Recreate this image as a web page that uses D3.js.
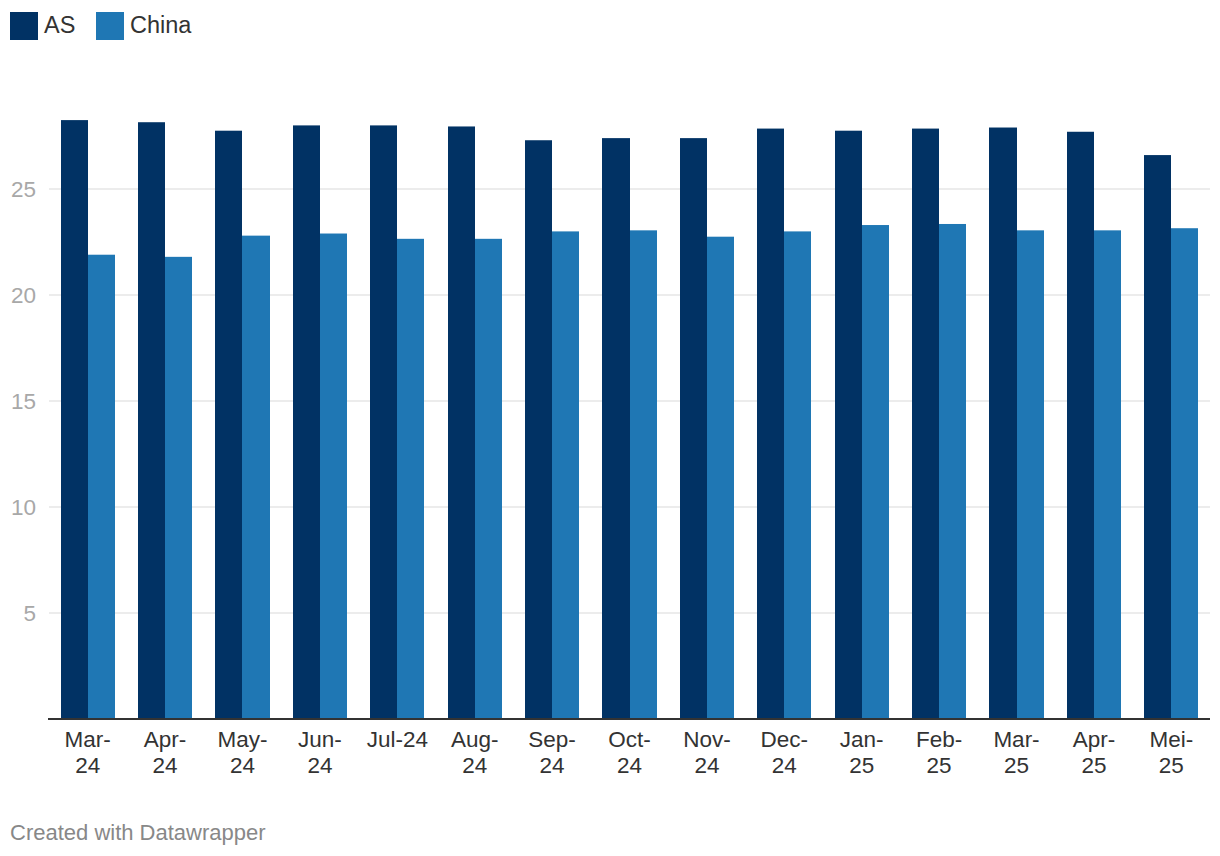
<!DOCTYPE html>
<html>
<head>
<meta charset="utf-8">
<script src="https://cdn.jsdelivr.net/npm/d3@7"></script>
<style>
  body { margin: 0; background: #fff; }
  svg { display: block; font-family: "Liberation Sans", Arial, Helvetica, sans-serif; }
</style>
</head>
<body>
<div id="wrapper"></div>
<script>
// data
const months = ["Mar-24", "Apr-24", "May-24", "Jun-24", "Jul-24", "Aug-24", "Sep-24", "Oct-24",
  "Nov-24", "Dec-24", "Jan-25", "Feb-25", "Mar-25", "Apr-25", "Mei-25"]
const asValues = [28.25, 28.15, 27.75, 28.0, 28.0, 27.95, 27.3, 27.4, 27.4, 27.85, 27.75, 27.85, 27.9, 27.7, 26.6]
const chinaValues = [21.9, 21.8, 22.8, 22.9, 22.65, 22.65, 23.0, 23.05, 22.75, 23.0, 23.3, 23.35, 23.05, 23.05, 23.15]
const seriesNames = ["AS", "China"]
const yTicks = [5, 10, 15, 20, 25]

const colors = { AS: "#013264", China: "#1f77b4" }

const width = 1220
const height = 856
const plot = { left: 49, right: 1210, zero: 719, perUnit: 21.2 }

const svg = d3.select("#wrapper")
  .append("svg")
    .attr("width", width)
    .attr("height", height)

const rows = months.map((m, i) => ({ month: m, AS: asValues[i], China: chinaValues[i] }))

const xScale = d3.scaleBand()
  .domain(months)
  .range([plot.left, plot.right])
  .paddingInner(0.302)
  .paddingOuter(0.151)

const xSub = d3.scaleBand()
  .domain(seriesNames)
  .range([0, xScale.bandwidth()])

const yScale = d3.scaleLinear()
  .domain([0, 30])
  .range([plot.zero, plot.zero - 30 * plot.perUnit])

// gridlines
svg.append("g")
  .selectAll("line")
  .data(yTicks)
  .join("line")
    .attr("x1", plot.left)
    .attr("x2", plot.right)
    .attr("y1", d => yScale(d))
    .attr("y2", d => yScale(d))
    .attr("stroke", "#e6e6e6")
    .attr("stroke-width", 1.5)

// y labels
svg.append("g")
  .selectAll("text")
  .data(yTicks)
  .join("text")
    .attr("x", 36)
    .attr("y", d => yScale(d) + 8)
    .attr("text-anchor", "end")
    .attr("fill", "#a8a8a8")
    .attr("font-size", "22.5px")
    .text(d => d)

// bars, snapped to whole pixels so neighbours don't show a seam
const barX = d => Math.round(xScale(d.month) + xSub(d.key))
const barW = d => Math.round(xScale(d.month) + xSub(d.key) + xSub.bandwidth()) - barX(d)

svg.append("g")
  .selectAll("g")
  .data(rows)
  .join("g")
  .selectAll("rect")
  .data(d => seriesNames.map(s => ({ month: d.month, key: s, value: d[s] })))
  .join("rect")
    .attr("x", barX)
    .attr("width", barW)
    .attr("y", d => yScale(d.value))
    .attr("height", d => yScale(0) - yScale(d.value))
    .attr("fill", d => colors[d.key])

// baseline
svg.append("line")
  .attr("x1", plot.left - 1)
  .attr("x2", plot.right)
  .attr("y1", yScale(0))
  .attr("y2", yScale(0))
  .attr("stroke", "#333")
  .attr("stroke-width", 2)

// x labels, wrapped after the hyphen when too wide
const xLabels = svg.append("g")
  .selectAll("text")
  .data(months)
  .join("text")
    .attr("x", d => xScale(d) + xScale.bandwidth() / 2)
    .attr("y", 747)
    .attr("text-anchor", "middle")
    .attr("fill", "#333")
    .attr("font-size", "22.5px")
    .text(d => d)

xLabels.each(function(d) {
  const t = d3.select(this)
  if (this.getComputedTextLength() > 64) {
    const parts = d.split("-")
    const cx = t.attr("x")
    t.text(null)
    t.append("tspan").attr("x", cx).attr("dy", 0).text(parts[0] + "-")
    t.append("tspan").attr("x", cx).attr("dy", 26).text(parts[1])
  }
})

// legend
const legend = svg.append("g")
const legendX = [10, 96]
seriesNames.forEach((s, i) => {
  legend.append("rect")
    .attr("x", legendX[i])
    .attr("y", 12)
    .attr("width", 28)
    .attr("height", 28)
    .attr("fill", colors[s])
  legend.append("text")
    .attr("x", legendX[i] + 34)
    .attr("y", 32.5)
    .attr("fill", "#333")
    .attr("font-size", "23.5px")
    .text(s)
})

// footer
svg.append("text")
  .attr("x", 10)
  .attr("y", 840)
  .attr("fill", "#888")
  .attr("font-size", "22px")
  .text("Created with Datawrapper")
</script>
</body>
</html>
